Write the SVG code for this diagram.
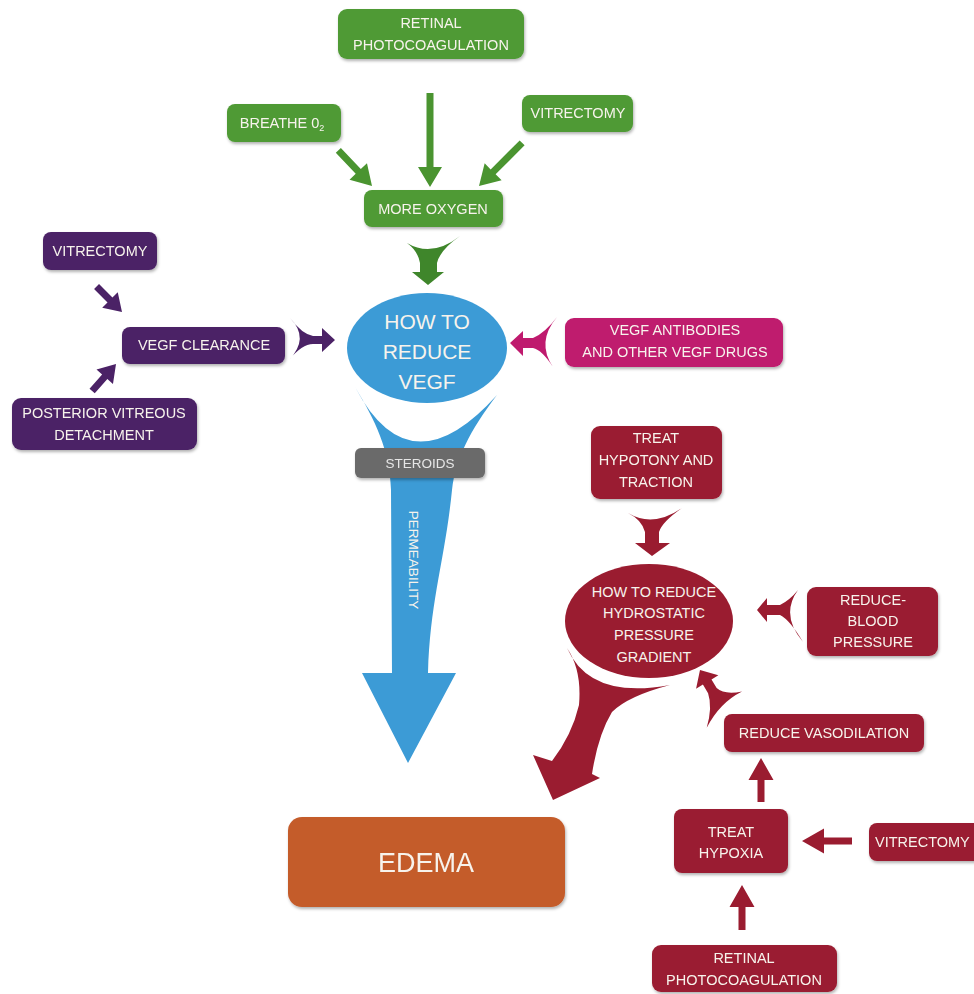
<svg xmlns="http://www.w3.org/2000/svg" width="974" height="994" viewBox="0 0 974 994">
<defs>
<filter id="sh" x="-10%" y="-10%" width="125%" height="135%">
<feDropShadow dx="1" dy="2" stdDeviation="1.5" flood-color="#000" flood-opacity="0.3"/>
</filter>
<style>
text{font-family:"Liberation Sans",Arial,sans-serif;fill:#f7f3ec;text-anchor:middle;font-size:14.5px}
.g{fill:#4f9a35}
.ga{fill:#4a9430}
.gd{fill:#3f862b}
.p{fill:#4b2266}
.m{fill:#bf1a6e}
.b{fill:#3c9bd6}
.r{fill:#9a1c30}
.gr{fill:#6b6b6b}
.o{fill:#c45c2b}
.n{filter:url(#sh)}
.big{font-size:21px}
</style>
</defs>
<rect width="974" height="994" fill="#ffffff"/>

<g id="connectors">
<!-- green straight arrows -->
<path class="ga" transform="translate(372,186) rotate(46.6)" d="M-49,-3.5 L-20,-3.5 L-20,-12 L0,0 L-20,12 L-20,3.5 L-49,3.5 Z"/>
<path class="ga" transform="translate(430,187) rotate(90)" d="M-94,-3.5 L-20,-3.5 L-20,-12 L0,0 L-20,12 L-20,3.5 L-94,3.5 Z"/>
<path class="ga" transform="translate(479,186) rotate(135)" d="M-61,-3.5 L-20,-3.5 L-20,-12 L0,0 L-20,12 L-20,3.5 L-61,3.5 Z"/>
<!-- green flared arrow -->
<path class="gd" d="M407,243 Q432,258 460,236 Q440,250 437,263 L437,272 L444,272 L428,285 L412,272 L420,272 L420,263 Q418,251 407,243 Z"/>
<!-- purple straight arrows -->
<path class="p" transform="translate(122,312) rotate(45)" d="M-36,-3.5 L-17,-3.5 L-17,-11 L0,0 L-17,11 L-17,3.5 L-36,3.5 Z"/>
<path class="p" transform="translate(116,364) rotate(-48.5)" d="M-36,-3.5 L-17,-3.5 L-17,-11 L0,0 L-17,11 L-17,3.5 L-36,3.5 Z"/>
<!-- purple flared arrow -->
<path class="p" d="M290,318 Q310,338 289,360 Q302,344 313,344 L322,344 L322,352 L335,340 L322,328 L322,336 L313,336 Q302,334 290,318 Z"/>
<!-- magenta flared arrow -->
<path class="m" d="M557,317 Q536,342 553,367 Q542,350 533,348 L523,348 L523,356 L510,343 L523,331 L523,338 L533,338 Q545,333 557,317 Z"/>
<!-- blue funnel arrow -->
<path class="b" d="M355,387 Q410,492 497,395 C470,430 455,460 452,490 C445,560 430,600 428,673 L456,673 L408,763 L362,673 L392,673 L391,490 C390,450 375,420 355,387 Z"/>
<!-- red flared arrows -->
<path class="r" d="M628,513 Q653,528 682,508 Q662,522 659,532 L659,543 L670,543 L652,556 L635,543 L645,543 L645,532 Q642,520 628,513 Z"/>
<path class="r" d="M798,590 Q780,615 803,642 Q790,620 780,615 L767,615 L767,622 L757,610 L767,598 L767,605 L780,605 Q790,600 798,590 Z"/>
<path class="r" transform="translate(700,670) rotate(-31)" d="M0,0 L13,14 L5,14 L5,24 Q8,34 25,40 Q0,38 -24,53 Q-8,38 -5,24 L-5,14 L-13,14 Z"/>
<!-- big red arrow to edema -->
<path class="r" d="M567,648 Q590,700 670,685 Q628,696 612,712 Q598,735 592,774 L600,778 L553,800 L533,755 L552,761 Q572,735 579,705 Q582,670 567,648 Z"/>
<!-- red straight arrows -->
<path class="r" transform="translate(761,758) rotate(-90)" d="M-44,-3.5 L-22,-3.5 L-22,-12.5 L0,0 L-22,12.5 L-22,3.5 L-44,3.5 Z"/>
<path class="r" transform="translate(802,841) rotate(180)" d="M-50,-3.5 L-22,-3.5 L-22,-12.5 L0,0 L-22,12.5 L-22,3.5 L-50,3.5 Z"/>
<path class="r" transform="translate(742,885) rotate(-90)" d="M-45,-3.5 L-22,-3.5 L-22,-12.5 L0,0 L-22,12.5 L-22,3.5 L-45,3.5 Z"/>
</g>

<g id="retinal-green" class="n">
<rect class="g" x="338" y="9" width="186" height="50" rx="9"/>
<text x="431" y="28">RETINAL</text>
<text x="431" y="50">PHOTOCOAGULATION</text>
</g>
<g id="breathe" class="n">
<rect class="g" x="227" y="104" width="114" height="38" rx="8"/>
<text x="282" y="128">BREATHE 0<tspan font-size="9" dy="3">2</tspan></text>
</g>
<g id="vitrectomy-green" class="n">
<rect class="g" x="522" y="95" width="111" height="37" rx="8"/>
<text x="578" y="118">VITRECTOMY</text>
</g>
<g id="more-oxygen" class="n">
<rect class="g" x="364" y="190" width="139" height="37" rx="8"/>
<text x="433" y="214">MORE OXYGEN</text>
</g>

<g id="vitrectomy-purple" class="n">
<rect class="p" x="43" y="232" width="114" height="38" rx="8"/>
<text x="100" y="256">VITRECTOMY</text>
</g>
<g id="vegf-clearance" class="n">
<rect class="p" x="122" y="327" width="163" height="37" rx="8"/>
<text x="204" y="350">VEGF CLEARANCE</text>
</g>
<g id="pvd" class="n">
<rect class="p" x="12" y="398" width="185" height="52" rx="9"/>
<text x="104" y="418">POSTERIOR VITREOUS</text>
<text x="104" y="440">DETACHMENT</text>
</g>

<g id="reduce-vegf">
<ellipse class="b" cx="427" cy="348" rx="80" ry="55"/>
<text class="big" x="427" y="329">HOW TO</text>
<text class="big" x="427" y="359">REDUCE</text>
<text class="big" x="427" y="389">VEGF</text>
</g>

<g id="vegf-antibodies" class="n">
<rect class="m" x="565" y="318" width="218" height="49" rx="9"/>
<text x="675" y="335">VEGF ANTIBODIES</text>
<text x="675" y="357">AND OTHER VEGF DRUGS</text>
</g>

<g id="steroids" class="n">
<rect class="gr" x="355" y="448" width="130" height="30" rx="6"/>
<text x="420" y="468" style="font-size:13.5px;fill:#e6e6e6">STEROIDS</text>
</g>
<g id="permeability">
<text transform="translate(409,560) rotate(90)" style="font-size:13.5px">PERMEABILITY</text>
</g>

<g id="treat-hypotony" class="n">
<rect class="r" x="591" y="426" width="131" height="73" rx="9"/>
<text x="656" y="443">TREAT</text>
<text x="656" y="465">HYPOTONY AND</text>
<text x="656" y="487">TRACTION</text>
</g>
<g id="reduce-hydrostatic">
<ellipse class="r" cx="649" cy="621" rx="84" ry="57"/>
<text x="654" y="597">HOW TO REDUCE</text>
<text x="654" y="618">HYDROSTATIC</text>
<text x="654" y="640">PRESSURE</text>
<text x="654" y="662">GRADIENT</text>
</g>
<g id="reduce-bp" class="n">
<rect class="r" x="807" y="587" width="131" height="69" rx="9"/>
<text x="873" y="605">REDUCE-</text>
<text x="873" y="626">BLOOD</text>
<text x="873" y="647">PRESSURE</text>
</g>
<g id="reduce-vasodilation" class="n">
<rect class="r" x="724" y="714" width="200" height="38" rx="8"/>
<text x="824" y="738">REDUCE VASODILATION</text>
</g>
<g id="treat-hypoxia" class="n">
<rect class="r" x="674" y="809" width="114" height="64" rx="8"/>
<text x="731" y="837">TREAT</text>
<text x="731" y="858">HYPOXIA</text>
</g>
<g id="vitrectomy-red" class="n">
<rect class="r" x="869" y="823" width="115" height="38" rx="8"/>
<text x="875" y="847" style="text-anchor:start">VITRECTOMY</text>
</g>
<g id="retinal-red" class="n">
<rect class="r" x="652" y="945" width="185" height="47" rx="9"/>
<text x="744" y="963">RETINAL</text>
<text x="744" y="985">PHOTOCOAGULATION</text>
</g>

<g id="edema" class="n">
<rect class="o" x="288" y="817" width="277" height="90" rx="14"/>
<text x="426" y="872" style="font-size:27px">EDEMA</text>
</g>
</svg>
